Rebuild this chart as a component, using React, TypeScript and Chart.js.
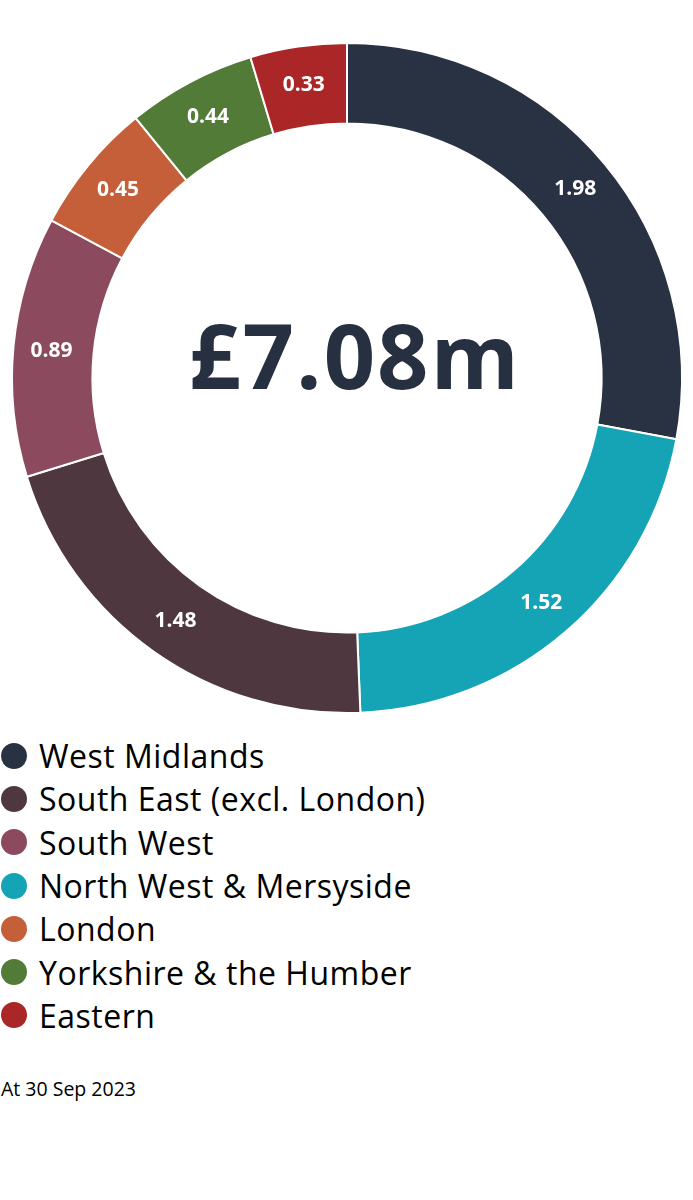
import React, { useEffect, useRef } from 'react';
import { Chart, registerables } from 'chart.js';
Chart.register(...registerables);

const regions = [
  'West Midlands',
  'North West & Mersyside',
  'South East (excl. London)',
  'South West',
  'London',
  'Yorkshire & the Humber',
  'Eastern',
];
const values = [1.98, 1.52, 1.48, 0.89, 0.45, 0.44, 0.33];
const colors = ['#283242', '#14a4b5', '#4f3740', '#8b4a5e', '#c45f3a', '#537b38', '#ab2626'];
const legendOrder = [0, 2, 3, 1, 4, 5, 6];
const totalLabel = '£7.08m';
const footnote = 'At 30 Sep 2023';

const FONT = '"Open Sans", "Noto Sans", sans-serif';

const labelPlugin = {
  id: 'arcLabels',
  afterDatasetsDraw(chart: any) {
    const ctx = chart.ctx;
    const meta = chart.getDatasetMeta(0);
    ctx.save();
    ctx.fillStyle = '#ffffff';
    ctx.font = `bold 21px ${FONT}`;
    ctx.textAlign = 'center';
    ctx.textBaseline = 'middle';
    meta.data.forEach((arc: any, i: number) => {
      const mid = (arc.startAngle + arc.endAngle) / 2;
      const r = (arc.innerRadius + arc.outerRadius) / 2 + 2;
      ctx.fillText(values[i].toFixed(2), arc.x + Math.cos(mid) * r, arc.y + Math.sin(mid) * r + 1);
    });
    const a = meta.data[0];
    ctx.fillStyle = '#263040';
    ctx.font = `bold 90px ${FONT}`;
    (ctx as any).letterSpacing = '2px';
    ctx.fillText(totalLabel, a.x + 8, a.y - 15);
    ctx.restore();
  },
};

export default function App() {
  const ref = useRef<HTMLCanvasElement>(null);
  useEffect(() => {
    if (!ref.current) return;
    const chart = new Chart(ref.current, {
      type: 'doughnut',
      data: {
        labels: regions,
        datasets: [
          {
            data: values,
            backgroundColor: colors,
            borderColor: '#ffffff',
            borderWidth: 2,
          },
        ],
      },
      options: {
        animation: false,
        responsive: false,
        cutout: '76%',
        layout: { padding: { top: 42, bottom: 6, left: 11, right: 10 } },
        plugins: { legend: { display: false }, tooltip: { enabled: false } },
      },
      plugins: [labelPlugin],
    });
    return () => chart.destroy();
  }, []);

  return (
    <div style={{ position: 'absolute', left: 0, top: 0, width: 693, fontFamily: FONT, background: '#fff' }}>
      <canvas ref={ref} width={693} height={720} style={{ display: 'block', width: 693, height: 720 }} />
      <div style={{ marginTop: 14 }}>
        {legendOrder.map((i) => (
          <div key={i} style={{ display: 'flex', alignItems: 'center', height: 43.3 }}>
            <span
              style={{
                display: 'inline-block',
                flex: 'none',
                width: 26,
                height: 26,
                borderRadius: 13,
                background: colors[i],
                marginLeft: 1,
              }}
            />
            <span style={{ marginLeft: 12, fontSize: 32, letterSpacing: 0.5, color: '#000', whiteSpace: 'nowrap' }}>
              {regions[i]}
            </span>
          </div>
        ))}
      </div>
      <div style={{ marginTop: 38, fontSize: 19.5, color: '#000', paddingLeft: 1 }}>{footnote}</div>
    </div>
  );
}
